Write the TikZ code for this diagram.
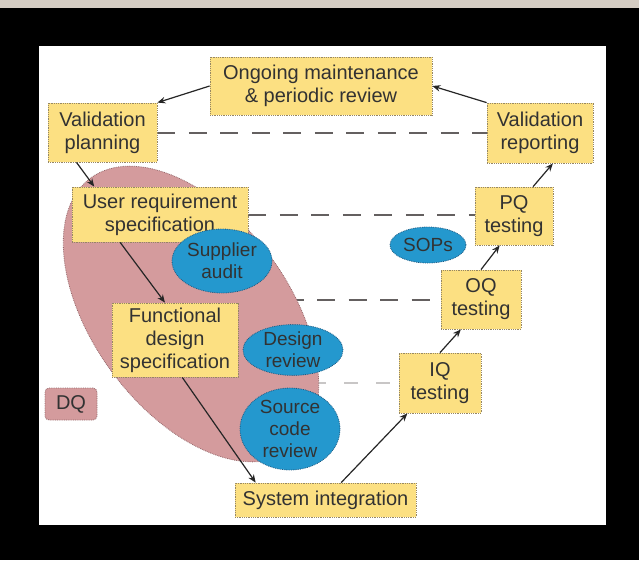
\documentclass[tikz,border=0pt]{standalone}
\usepackage{fontspec}
\setmainfont{Liberation Sans}
\usetikzlibrary{shapes.geometric,arrows.meta}
\definecolor{boxfill}{RGB}{252,224,130}
\definecolor{boxline}{RGB}{150,135,100}
\definecolor{pinkfill}{RGB}{212,155,157}
\definecolor{pinkline}{RGB}{150,105,108}
\definecolor{bluefill}{RGB}{36,152,206}
\definecolor{blueline}{RGB}{30,90,130}
\definecolor{txt}{RGB}{50,50,50}
\definecolor{band}{RGB}{213,205,195}
\definecolor{dashc}{RGB}{100,96,96}
\definecolor{lightdash}{RGB}{200,198,198}
\pgfdeclarelayer{bg}
\pgfdeclarelayer{lines}
\pgfdeclarelayer{pinklayer}
\pgfsetlayers{bg,lines,pinklayer,main}
\begin{document}
\begin{tikzpicture}[x=1pt,y=-1pt,
  box/.style={draw=boxline, densely dotted, line width=0.8pt, fill=boxfill, inner sep=0pt, align=center, text=txt, font=\fontsize{20}{23}\selectfont},
  blob/.style={ellipse, draw=blueline, densely dotted, line width=0.8pt, fill=bluefill, inner sep=0pt, align=center, text=txt, font=\fontsize{19}{22}\selectfont},
  flow/.style={-{Stealth[length=8pt,width=6.5pt]}, line width=1.2pt, draw=black!85},
  level/.style={draw=dashc, line width=2pt, dash pattern=on 18pt off 13.5pt},
  faint/.style={draw=lightdash, line width=2pt, dash pattern={on 14pt off 18pt}, dash phase=7pt}]

\begin{pgfonlayer}{bg}
\fill[black] (0,0) rectangle (639,560);
\fill[band] (0,0) rectangle (639,8);
\fill[white] (39,46) rectangle (606,525);
\end{pgfonlayer}

\begin{pgfonlayer}{pinklayer}
\node[ellipse, draw=pinkline, densely dotted, line width=0.8pt, fill=pinkfill,
      minimum width=338pt, minimum height=196pt, rotate=-53.5, inner sep=0pt] (pink) at (191,314) {};
\end{pgfonlayer}

% boxes
\node[box, minimum width=222pt, minimum height=58pt] (ongoing) at (321,86) {Ongoing maintenance\\\& periodic review};
\node[box, minimum width=109pt, minimum height=59pt] (vp) at (102.5,132.5) {Validation\\planning};
\node[box, minimum width=106pt, minimum height=60pt] (vr) at (540,133) {Validation\\reporting};
\node[box, minimum width=176pt, minimum height=55pt] (urs) at (160,214.5) {User requirement\\specification};
\node[box, minimum width=78pt, minimum height=58pt] (pq) at (514,216) {PQ\\testing};
\node[box, minimum width=80pt, minimum height=59pt] (oq) at (481,299.5) {OQ\\testing};
\node[box, minimum width=82pt, minimum height=60pt] (iq) at (440,383) {IQ\\testing};
\node[box, minimum width=126pt, minimum height=74pt] (fds) at (175,340) {Functional\\design\\specification};
\node[box, minimum width=181pt, minimum height=34pt] (si) at (325.5,500) {System integration};
\node[box, fill=pinkfill, draw=pinkline, rounded corners=4pt, minimum width=52pt, minimum height=32pt] (dq) at (71,404) {DQ};

% ellipses
\node[blob, minimum width=76pt, minimum height=36pt] (sops) at (428,245) {SOPs};
\node[blob, minimum width=100pt, minimum height=64pt] (supplier) at (222,261) {Supplier\\audit};
\node[blob, minimum width=100pt, minimum height=50pt] (design) at (293,350) {Design\\review};
\node[blob, minimum width=100pt, minimum height=82pt] (source) at (290,429) {Source\\code\\review};

% dashed level lines
\begin{pgfonlayer}{lines}
\draw[level] (vp.east) -- (vp.east -| vr.west);
\draw[level] (urs.east) -- (urs.east -| pq.west);
\draw[level] (oq.west -| pink.center) -- (oq.west);
\draw[faint] (iq.west -| pink.center) -- (iq.west);
\end{pgfonlayer}

% arrows
\draw[flow] (ongoing.west) -- (vp.north east);
\draw[flow] (vr.north west) -- (ongoing.east);
\draw[flow] (vp.-131) -- (urs.157);
\draw[flow] (urs.-145) -- (fds.105);
\draw[flow] (fds.-79) -- (si.166);
\draw[flow] (si.48) -- (iq.-137);
\draw[flow] (iq.north) -- (oq.-124);
\draw[flow] (oq.north) -- (pq.-116);
\draw[flow] (pq.57) -- (vr.-67);
\end{tikzpicture}
\end{document}
